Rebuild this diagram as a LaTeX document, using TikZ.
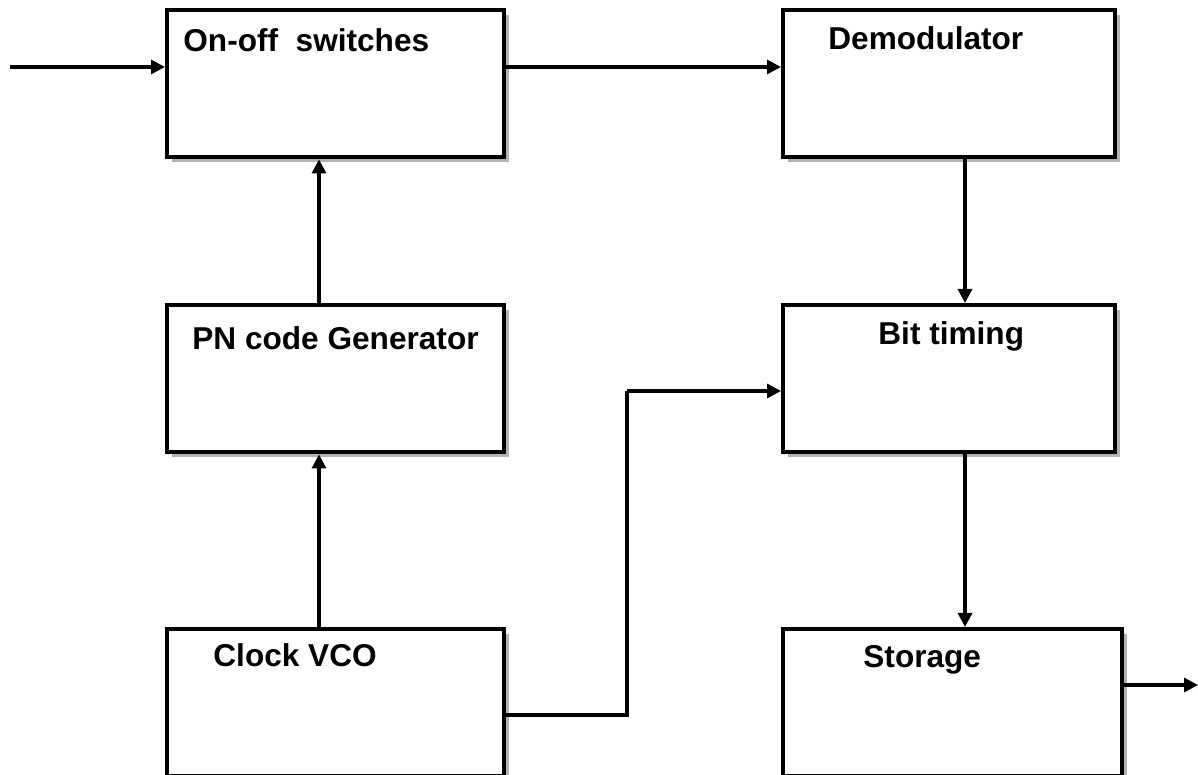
\documentclass[tikz,border=0pt]{standalone}
\usepackage{fontspec}
\setmainfont{Liberation Sans}
\usepackage{tikz}
\usetikzlibrary{arrows.meta, positioning, shadows, calc}

\begin{document}
\begin{tikzpicture}[x=0.5pt, y=0.5pt,
  blk/.style={draw=black, line width=2.2pt, fill=white, minimum height=73.5pt,
              inner sep=0pt, anchor=north west,
              copy shadow={shadow xshift=2.5pt, shadow yshift=-2.5pt, draw=none, fill=gray!60}},
  lbl/.style={font=\fontsize{15.8}{18}\selectfont\bfseries, inner sep=0pt, anchor=base west},
  arr/.style={-{Triangle[length=7pt, width=7pt]}, line width=1.6pt},
  wire/.style={line width=1.6pt}
]
\useasboundingbox (0,0) rectangle (1198,775);

% left column
\node[blk, minimum width=168.5pt] (sw)  at (165,767) {};
\node[blk, minimum width=168.5pt] (pn)  at (165,472) {};
\node[blk, minimum width=168.5pt] (clk) at (165,148) {};
% right column
\node[blk, minimum width=166pt] (dem) at (781,767) {};
\node[blk, minimum width=166pt] (bit) at (781,472) {};
\node[blk, minimum width=169.5pt] (sto) at (781,148) {};

\node[lbl] (tsw)  at (183,723) {On-off~~switches};
\node[lbl] (tdem) at (828,725) {Demodulator};
\node[lbl] (tpn)  at (192,425) {PN code Generator};
\node[lbl] (tbit) at (878,430) {Bit timing};
\node[lbl] (tclk) at (213,108) {Clock VCO};
\node[lbl] (tsto) at (863,107) {Storage};

\coordinate (in)  at (10,708);
\coordinate (cx)  at (319,0);
\coordinate (dx)  at (965,0);
\coordinate (k1)  at (627,60);
\coordinate (k2)  at (627,384);
\coordinate (out) at (1198,90);

\draw[arr] (in) -- (in -| sw.west);
\draw[arr] (in -| sw.east) -- (in -| dem.west);
\draw[arr] (cx |- pn.north) -- (cx |- sw.south);
\draw[arr] (cx |- clk.north) -- (cx |- pn.south);
\draw[arr] (dx |- dem.south) -- (dx |- bit.north);
\draw[arr] (dx |- bit.south) -- (dx |- sto.north);
\draw[wire] (k1 -| clk.east) -- (k1) -- (k2);
\draw[arr] (k2) -- (k2 -| bit.west);
\draw[arr] (out -| sto.east) -- (out);
\end{tikzpicture}
\end{document}
